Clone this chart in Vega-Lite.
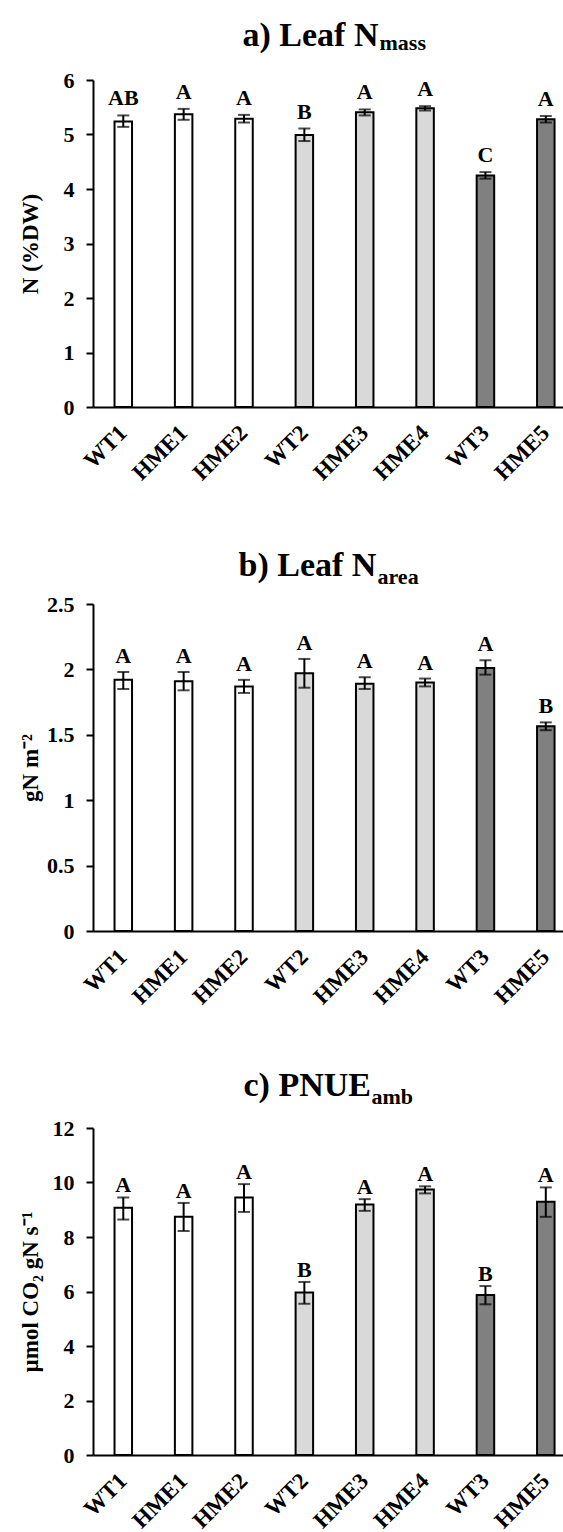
{
  "$schema": "https://vega.github.io/schema/vega-lite/v6.json",
  "padding": {"left": 19, "top": 18, "right": 0, "bottom": 0},
  "background": "white",
  "config": {
    "font": "Liberation Serif",
    "view": {"stroke": null},
    "axis": {
      "domainColor": "black", "domainWidth": 2,
      "tickColor": "black", "tickWidth": 2, "tickSize": 7,
      "labelFont": "Liberation Serif", "labelFontSize": 22, "labelFontWeight": "bold", "labelColor": "black",
      "titleFont": "Liberation Serif", "titleFontSize": 23, "titleFontWeight": "bold", "titleColor": "black",
      "grid": false
    },
    "axisY": {"labelPadding": 12, "titleAngle": -90, "titleX": -63, "titleY": 163.5, "titleBaseline": "middle", "titleAlign": "center"},
    "axisX": {"labelAngle": -45, "labelAlign": "right", "labelBaseline": "middle", "labelFontSize": 23, "ticks": false, "labelPadding": 22},
    "axisTop": {"domain": false, "ticks": false, "labels": false, "titleAngle": 0, "titleAlign": "left", "titleBaseline": "alphabetic"}
  },
  "datasets": {
    "nmass": [
      {"genotype": "WT1", "set": "s1", "mean": 5.24, "lo": 5.14, "hi": 5.35, "letter": "AB"},
      {"genotype": "HME1", "set": "s1", "mean": 5.37, "lo": 5.27, "hi": 5.47, "letter": "A"},
      {"genotype": "HME2", "set": "s1", "mean": 5.29, "lo": 5.22, "hi": 5.36, "letter": "A"},
      {"genotype": "WT2", "set": "s2", "mean": 4.99, "lo": 4.88, "hi": 5.11, "letter": "B"},
      {"genotype": "HME3", "set": "s2", "mean": 5.41, "lo": 5.35, "hi": 5.46, "letter": "A"},
      {"genotype": "HME4", "set": "s2", "mean": 5.48, "lo": 5.44, "hi": 5.52, "letter": "A"},
      {"genotype": "WT3", "set": "s3", "mean": 4.25, "lo": 4.19, "hi": 4.31, "letter": "C"},
      {"genotype": "HME5", "set": "s3", "mean": 5.28, "lo": 5.22, "hi": 5.34, "letter": "A"}
    ],
    "narea": [
      {"genotype": "WT1", "set": "s1", "mean": 1.92, "lo": 1.85, "hi": 1.98, "letter": "A"},
      {"genotype": "HME1", "set": "s1", "mean": 1.91, "lo": 1.84, "hi": 1.98, "letter": "A"},
      {"genotype": "HME2", "set": "s1", "mean": 1.87, "lo": 1.82, "hi": 1.92, "letter": "A"},
      {"genotype": "WT2", "set": "s2", "mean": 1.97, "lo": 1.86, "hi": 2.08, "letter": "A"},
      {"genotype": "HME3", "set": "s2", "mean": 1.89, "lo": 1.85, "hi": 1.94, "letter": "A"},
      {"genotype": "HME4", "set": "s2", "mean": 1.9, "lo": 1.87, "hi": 1.93, "letter": "A"},
      {"genotype": "WT3", "set": "s3", "mean": 2.01, "lo": 1.96, "hi": 2.07, "letter": "A"},
      {"genotype": "HME5", "set": "s3", "mean": 1.565, "lo": 1.535, "hi": 1.595, "letter": "B"}
    ],
    "pnue": [
      {"genotype": "WT1", "set": "s1", "mean": 9.07, "lo": 8.64, "hi": 9.45, "letter": "A"},
      {"genotype": "HME1", "set": "s1", "mean": 8.74, "lo": 8.22, "hi": 9.25, "letter": "A"},
      {"genotype": "HME2", "set": "s1", "mean": 9.45, "lo": 8.92, "hi": 9.94, "letter": "A"},
      {"genotype": "WT2", "set": "s2", "mean": 5.96, "lo": 5.55, "hi": 6.35, "letter": "B"},
      {"genotype": "HME3", "set": "s2", "mean": 9.19, "lo": 8.96, "hi": 9.39, "letter": "A"},
      {"genotype": "HME4", "set": "s2", "mean": 9.74, "lo": 9.6, "hi": 9.86, "letter": "A"},
      {"genotype": "WT3", "set": "s3", "mean": 5.87, "lo": 5.53, "hi": 6.2, "letter": "B"},
      {"genotype": "HME5", "set": "s3", "mean": 9.29, "lo": 8.74, "hi": 9.82, "letter": "A"}
    ]
  },
  "bounds": "flush",
  "spacing": 197,
  "vconcat": [
    {
      "width": 471, "height": 327,
      "data": {"name": "nmass"},
      "resolve": {"axis": {"x": "independent"}},
      "layer": [
        {
          "mark": {"type": "bar", "stroke": "black", "strokeWidth": 2},
          "encoding": {
            "x": {"field": "genotype", "type": "nominal", "sort": ["WT1", "HME1", "HME2", "WT2", "HME3", "HME4", "WT3", "HME5"], "title": null,
                  "scale": {"paddingInner": 0.71, "paddingOuter": 0.2566, "align": 0.695}},
            "y": {"field": "mean", "type": "quantitative", "scale": {"domain": [0, 6], "nice": false},
                  "axis": {"title": "N (%DW)", "values": [0, 1, 2, 3, 4, 5, 6], "format": "~g"}},
            "fill": {"field": "set", "type": "nominal", "legend": null,
                     "scale": {"domain": ["s1", "s2", "s3"], "range": ["#ffffff", "#d9d9d9", "#808080"]}}
          }
        },
        {
          "mark": {"type": "errorbar", "color": "black", "thickness": 2, "ticks": {"size": 12}},
          "encoding": {
            "x": {"field": "genotype", "type": "nominal", "sort": ["WT1", "HME1", "HME2", "WT2", "HME3", "HME4", "WT3", "HME5"],
                  "axis": {"orient": "top", "title": "a) Leaf N", "titleFontSize": 34, "titleX": 149, "titleY": -35}},
            "y": {"field": "lo", "type": "quantitative", "scale": {"domain": [0, 6], "nice": false}, "title": "N (%DW)"},
            "y2": {"field": "hi"}
          }
        },
        {
          "mark": {"type": "text", "font": "Liberation Serif", "fontSize": 22, "fontWeight": "bold", "color": "black", "baseline": "alphabetic", "dy": -10},
          "encoding": {
            "x": {"field": "genotype", "type": "nominal", "sort": ["WT1", "HME1", "HME2", "WT2", "HME3", "HME4", "WT3", "HME5"],
                  "axis": {"orient": "top", "title": "mass", "titleFontSize": 22, "titleX": 286, "titleY": -31}},
            "y": {"field": "hi", "type": "quantitative", "scale": {"domain": [0, 6], "nice": false}, "title": "N (%DW)"},
            "text": {"field": "letter"}
          }
        }
      ]
    },
    {
      "width": 471, "height": 327,
      "data": {"name": "narea"},
      "resolve": {"axis": {"x": "independent"}},
      "layer": [
        {
          "mark": {"type": "bar", "stroke": "black", "strokeWidth": 2},
          "encoding": {
            "x": {"field": "genotype", "type": "nominal", "sort": ["WT1", "HME1", "HME2", "WT2", "HME3", "HME4", "WT3", "HME5"], "title": null,
                  "scale": {"paddingInner": 0.71, "paddingOuter": 0.2566, "align": 0.695}},
            "y": {"field": "mean", "type": "quantitative", "scale": {"domain": [0, 2.5], "nice": false},
                  "axis": {"title": "gN m\u207b\u00b2", "values": [0, 0.5, 1, 1.5, 2, 2.5], "format": "~g"}},
            "fill": {"field": "set", "type": "nominal", "legend": null,
                     "scale": {"domain": ["s1", "s2", "s3"], "range": ["#ffffff", "#d9d9d9", "#808080"]}}
          }
        },
        {
          "mark": {"type": "errorbar", "color": "black", "thickness": 2, "ticks": {"size": 12}},
          "encoding": {
            "x": {"field": "genotype", "type": "nominal", "sort": ["WT1", "HME1", "HME2", "WT2", "HME3", "HME4", "WT3", "HME5"],
                  "axis": {"orient": "top", "title": "b) Leaf N", "titleFontSize": 34, "titleX": 145, "titleY": -29}},
            "y": {"field": "lo", "type": "quantitative", "scale": {"domain": [0, 2.5], "nice": false}, "title": "gN m\u207b\u00b2"},
            "y2": {"field": "hi"}
          }
        },
        {
          "mark": {"type": "text", "font": "Liberation Serif", "fontSize": 22, "fontWeight": "bold", "color": "black", "baseline": "alphabetic", "dy": -9},
          "encoding": {
            "x": {"field": "genotype", "type": "nominal", "sort": ["WT1", "HME1", "HME2", "WT2", "HME3", "HME4", "WT3", "HME5"],
                  "axis": {"orient": "top", "title": "area", "titleFontSize": 22, "titleX": 284, "titleY": -21}},
            "y": {"field": "hi", "type": "quantitative", "scale": {"domain": [0, 2.5], "nice": false}, "title": "gN m\u207b\u00b2"},
            "text": {"field": "letter"}
          }
        }
      ]
    },
    {
      "width": 471, "height": 327,
      "data": {"name": "pnue"},
      "resolve": {"axis": {"x": "independent"}},
      "layer": [
        {
          "mark": {"type": "bar", "stroke": "black", "strokeWidth": 2},
          "encoding": {
            "x": {"field": "genotype", "type": "nominal", "sort": ["WT1", "HME1", "HME2", "WT2", "HME3", "HME4", "WT3", "HME5"], "title": null,
                  "scale": {"paddingInner": 0.71, "paddingOuter": 0.2566, "align": 0.695}},
            "y": {"field": "mean", "type": "quantitative", "scale": {"domain": [0, 12], "nice": false},
                  "axis": {"title": "\u00b5mol CO\u2082 gN s\u207b\u00b9", "values": [0, 2, 4, 6, 8, 10, 12]}},
            "fill": {"field": "set", "type": "nominal", "legend": null,
                     "scale": {"domain": ["s1", "s2", "s3"], "range": ["#ffffff", "#d9d9d9", "#808080"]}}
          }
        },
        {
          "mark": {"type": "errorbar", "color": "black", "thickness": 2, "ticks": {"size": 12}},
          "encoding": {
            "x": {"field": "genotype", "type": "nominal", "sort": ["WT1", "HME1", "HME2", "WT2", "HME3", "HME4", "WT3", "HME5"],
                  "axis": {"orient": "top", "title": "c) PNUE", "titleFontSize": 34, "titleX": 150, "titleY": -33}},
            "y": {"field": "lo", "type": "quantitative", "scale": {"domain": [0, 12], "nice": false}, "title": "\u00b5mol CO\u2082 gN s\u207b\u00b9"},
            "y2": {"field": "hi"}
          }
        },
        {
          "mark": {"type": "text", "font": "Liberation Serif", "fontSize": 22, "fontWeight": "bold", "color": "black", "baseline": "alphabetic", "dy": -5},
          "encoding": {
            "x": {"field": "genotype", "type": "nominal", "sort": ["WT1", "HME1", "HME2", "WT2", "HME3", "HME4", "WT3", "HME5"],
                  "axis": {"orient": "top", "title": "amb", "titleFontSize": 22, "titleX": 278, "titleY": -25}},
            "y": {"field": "hi", "type": "quantitative", "scale": {"domain": [0, 12], "nice": false}, "title": "\u00b5mol CO\u2082 gN s\u207b\u00b9"},
            "text": {"field": "letter"}
          }
        }
      ]
    }
  ]
}
